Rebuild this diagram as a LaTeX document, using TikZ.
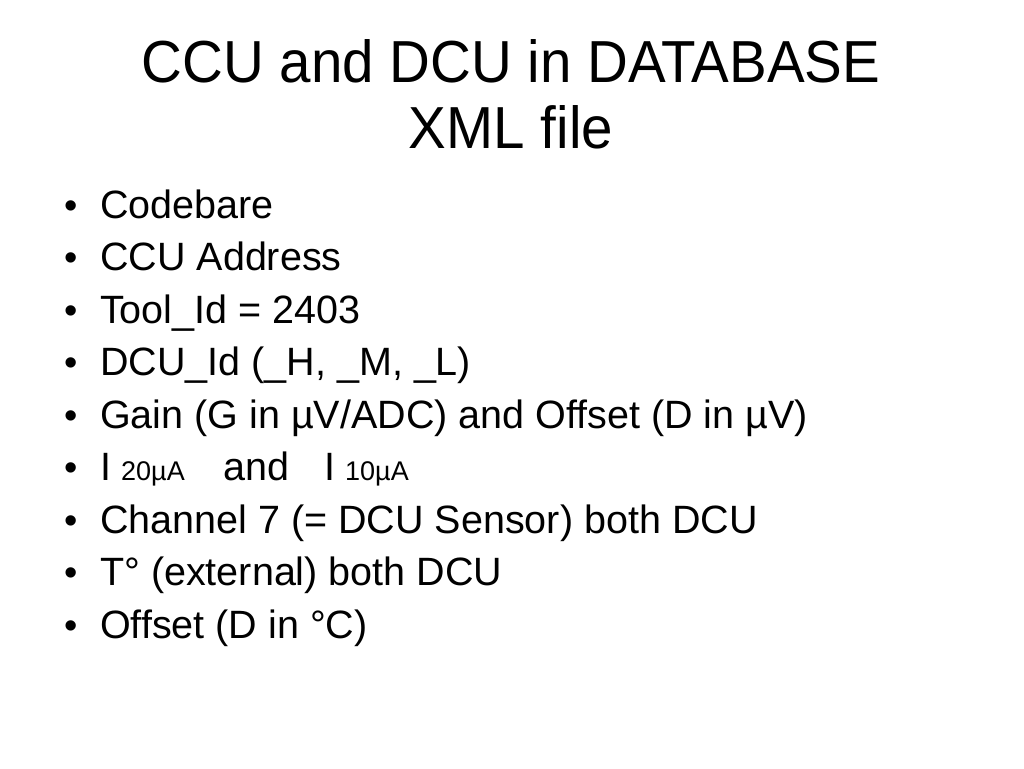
\documentclass[tikz,border=0pt]{standalone}
\usepackage{fontspec}
\usepackage{graphicx}
\setmainfont{Liberation Sans}
\begin{document}
\begin{tikzpicture}[x=1pt,y=-1pt,
  titletext/.style={anchor=base,inner sep=0pt,font=\fontsize{56.5}{60}\selectfont},
  itemtext/.style={anchor=base west,inner sep=0pt,font=\fontsize{39.5}{44}\selectfont},
  bulletmark/.style={anchor=base west,inner sep=0pt,font=\fontsize{38}{40}\selectfont},
  subtext/.style={anchor=base west,inner sep=0pt,font=\fontsize{27}{30}\selectfont}]
\useasboundingbox[fill=white] (0,0) rectangle (1024,768);
\node[titletext] (t1) at (511,82) {\scalebox{1}[1.05]{CCU and DCU in DATABASE}};
\node[titletext] (t2) at (511,148) {\scalebox{1}[1.05]{XML file}};
\foreach \y [count=\i] in {218,270.5,323,375.5,428,480.5,533,585.5,638}
  \node[bulletmark] (b\i) at (64,\y) {•};
\node[itemtext] (i1) at (100,218) {Codebare};
\node[itemtext] (i2) at (100,270.5) {CCU Address};
\node[itemtext] (i3) at (100,323) {Tool\_Id = 2403};
\node[itemtext] (i4) at (100,375.5) {DCU\_Id (\_H, \_M, \_L)};
\node[itemtext] (i5) at (100,428) {Gain (G in µV/ADC) and Offset (D in µV)};
\node[itemtext] (i6a) at (100,480.5) {I};
\node[subtext] (i6b) at (121,480.5) {20µA};
\node[itemtext] (i6c) at (223,480.5) {and};
\node[itemtext] (i6d) at (324,480.5) {I};
\node[subtext] (i6e) at (345,480.5) {10µA};
\node[itemtext] (i7) at (100,533) {Channel 7 (= DCU Sensor) both DCU};
\node[itemtext] (i8) at (100,585.5) {T° (external) both DCU};
\node[itemtext] (i9) at (100,638) {Offset (D in °C)};
\end{tikzpicture}
\end{document}
